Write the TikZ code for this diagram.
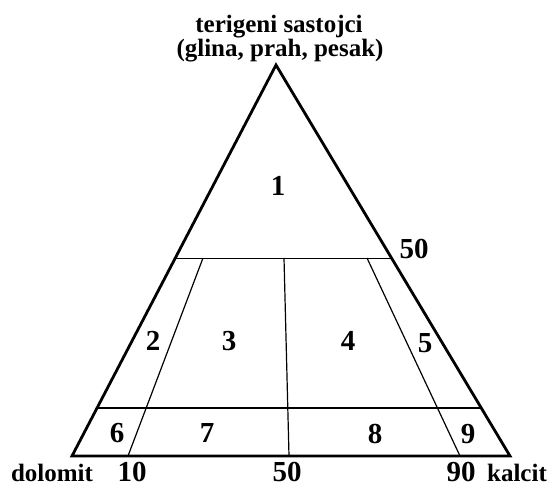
\documentclass[tikz,border=0pt]{standalone}
\usepackage{fontspec}
\setmainfont{Liberation Serif}
\usetikzlibrary{calc}

\begin{document}
\begin{tikzpicture}[x=1pt, y=-1pt,
        every node/.style={font=\fontsize{25}{27}\selectfont\bfseries, inner sep=0pt},
        side/.style={line width=2.8pt, line join=miter},
        div/.style={line width=1.2pt},
        num/.style={anchor=base, font=\fontsize{29}{31}\selectfont\bfseries},
        lbl/.style={anchor=base}
    ]
        \useasboundingbox (0,0) rectangle (554,487);

        % Vertices
        \coordinate (dol) at (72,456);
        \coordinate (kal) at (510,456);
        \coordinate (ter) at (276,65);

        % Points on the sides
        \coordinate (l50) at ($(dol)!0.506!(ter)$);
        \coordinate (r50) at ($(kal)!0.506!(ter)$);
        \coordinate (l10) at ($(dol)!0.123!(ter)$);
        \coordinate (r10) at ($(kal)!0.123!(ter)$);

        % Inner dividers (top / bottom)
        \coordinate (a1) at (203,258);
        \coordinate (a2) at (128,456);
        \coordinate (m1) at (284,258);
        \coordinate (m2) at (289,456);
        \coordinate (b1) at (367,258);
        \coordinate (b2) at (460,456);

        % Triangle
        \draw[side] (dol) -- (kal) -- (ter) -- cycle;

        % Dividers
        \draw[div] (l50) -- (r50);
        \draw[div] (l10) -- (r10);
        \draw[div] (a1) -- (a2);
        \draw[div] (m1) -- (m2);
        \draw[div] (b1) -- (b2);

        % Field numbers
        \node[num] (f1) at (278,195) {1};
        \node[num] (f2) at (153,350) {2};
        \node[num] (f3) at (229,350) {3};
        \node[num] (f4) at (348,350) {4};
        \node[num] (f5) at (425,352) {5};
        \node[num] (f6) at (117,442) {6};
        \node[num] (f7) at (207,442) {7};
        \node[num] (f8) at (375,443) {8};
        \node[num] (f9) at (468,443) {9};

        % Axis labels
        \node[lbl] (t1) at (279,33) {terigeni sastojci};
        \node[lbl] (t2) at (280,57) {(glina, prah, pesak)};
        \node[num] (s50) at (414,258) {50};
        \node[lbl] (dl) at (52,481) {dolomit};
        \node[num] (b10) at (132,481) {10};
        \node[num] (b50) at (287,481) {50};
        \node[num] (b90) at (461,481) {90};
        \node[lbl] (kl) at (517,481) {kalcit};
    \end{tikzpicture}
\end{document}
